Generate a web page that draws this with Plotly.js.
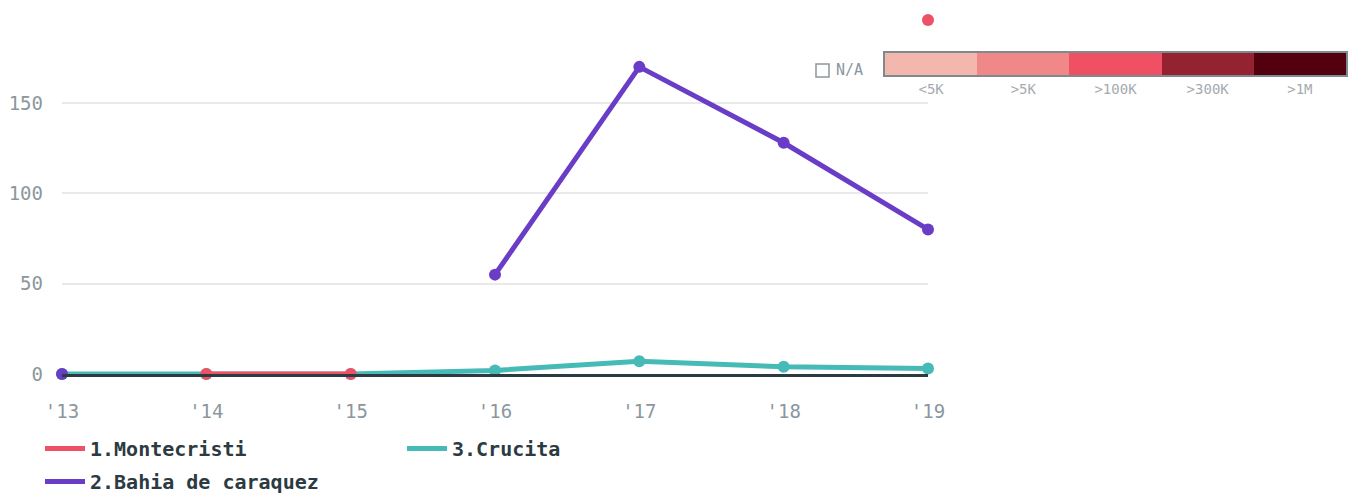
<!DOCTYPE html>
<html>
<head>
<meta charset="utf-8">
<script src="https://cdn.plot.ly/plotly-3.0.1.min.js"></script>
<style>html,body{margin:0;padding:0;background:#fff}#chart{width:1355px;height:495px}</style>
</head>
<body>
<div id="chart"></div>
<script>
// ---- data ----
const years = [2013, 2014, 2015, 2016, 2017, 2018, 2019];
const yearLabels = ["'13", "'14", "'15", "'16", "'17", "'18", "'19"];
const montecristi = [null, 0, 0, null, null, null, 196];
const bahia = [0, null, null, 55, 170, 128, 80];
const crucita = [0, 0, 0, 2, 7, 4, 3];
const seriesNames = ["1.Montecristi", "2.Bahia de caraquez", "3.Crucita"];
const seriesColors = ["#ee5166", "#6a3dc7", "#45bab7"];
const keyLabels = ["<5K", ">5K", ">100K", ">300K", ">1M"];
const keyLevels = [0, 1, 2, 3, 4];
const keyColors = ["#f4b7ae", "#f08889", "#ef5064", "#952230", "#52000d"];
const yTicks = [0, 50, 100, 150];

// ---- layout helpers ----
const W = 1355, H = 495;
const M = {l: 62, r: 9, t: 10, b: 121, autoexpand: false};
const PW = W - M.l - M.r, PH = H - M.t - M.b;
const px = x => (x - M.l) / PW;          // pixel -> paper x
const py = y => (H - M.b - y) / PH;      // pixel -> paper y

const monoFont = "'DejaVu Sans Mono', monospace";
const gray = "#8b979d";

function seriesTraces(name, y, color, legend, rank) {
  return [
    {
      x: years, y: y, name: name, type: 'scatter', mode: 'lines',
      line: {color: color, width: 5}, connectgaps: false,
      legend: legend, legendrank: rank, legendgroup: name,
      hoverinfo: 'x+y+name'
    },
    {
      x: years, y: y, name: name, type: 'scatter', mode: 'markers',
      marker: {color: color, size: 12}, cliponaxis: false,
      showlegend: false, legendgroup: name, hoverinfo: 'skip'
    }
  ];
}

const data = [
  ...seriesTraces(seriesNames[2], crucita, seriesColors[2], 'legend2', 3),
  ...seriesTraces(seriesNames[0], montecristi, seriesColors[0], 'legend', 1),
  ...seriesTraces(seriesNames[1], bahia, seriesColors[1], 'legend', 2),
  {
    type: 'heatmap', x: keyLabels, y: [0], z: [keyLevels],
    xaxis: 'x2', yaxis: 'y2', zmin: 0, zmax: keyLevels.length - 1,
    colorscale: keyColors.map((c, i) => [i / (keyColors.length - 1), c]),
    showscale: false, hoverinfo: 'skip', showlegend: false
  }
];

const legendFont = {family: monoFont, size: 20, color: '#2c3a42', weight: 'bold'};

const layout = {
  width: W, height: H,
  margin: M,
  paper_bgcolor: '#fff', plot_bgcolor: '#fff',
  font: {family: monoFont, color: gray},
  showlegend: true,
  xaxis: {
    domain: [0, px(928)], range: [2013, 2019],
    tickvals: years, ticktext: yearLabels,
    showgrid: false, zeroline: false,
    showline: true, linecolor: '#2c3a42', linewidth: 3, layer: 'above traces',
    ticks: 'outside', ticklen: 18, tickcolor: 'rgba(0,0,0,0)',
    tickfont: {family: monoFont, size: 19, color: gray}
  },
  yaxis: {
    domain: [0, 1], range: [0, PH / ((374 - 103) / 150)],
    tickvals: yTicks,
    showgrid: true, gridcolor: '#e9e9e9', gridwidth: 1.5,
    zeroline: false, showline: false, ticks: '', ticklabelstandoff: 18,
    tickfont: {family: monoFont, size: 19, color: gray}
  },
  xaxis2: {
    domain: [px(885), px(1346)], anchor: 'y2',
    showgrid: false, zeroline: false,
    showline: true, mirror: true, linecolor: '#7f8a90', linewidth: 2,
    ticks: '', tickfont: {family: monoFont, size: 14, color: '#a3abb0'}
  },
  yaxis2: {
    domain: [py(75), py(53)], anchor: 'x2',
    showgrid: false, zeroline: false, showticklabels: false,
    showline: true, mirror: true, linecolor: '#7f8a90', linewidth: 2, ticks: ''
  },
  legend: {
    orientation: 'v', x: px(40), xanchor: 'left', y: py(429), yanchor: 'top',
    font: legendFont, bgcolor: 'rgba(0,0,0,0)', tracegroupgap: 4, itemwidth: 40
  },
  legend2: {
    orientation: 'v', x: px(402), xanchor: 'left', y: py(429), yanchor: 'top',
    font: legendFont, bgcolor: 'rgba(0,0,0,0)', itemwidth: 40
  },
  shapes: [{
    type: 'rect', xref: 'paper', yref: 'paper',
    x0: px(816), x1: px(829), y0: py(77), y1: py(64),
    line: {color: gray, width: 1.5}, fillcolor: 'rgba(0,0,0,0)'
  }],
  annotations: [{
    xref: 'paper', yref: 'paper', x: px(834), y: py(70),
    xanchor: 'left', yanchor: 'middle', showarrow: false,
    text: 'N/A', font: {family: monoFont, size: 15, color: gray}
  }]
};

Plotly.newPlot('chart', data, layout, {displayModeBar: false, responsive: false});
</script>
</body>
</html>
